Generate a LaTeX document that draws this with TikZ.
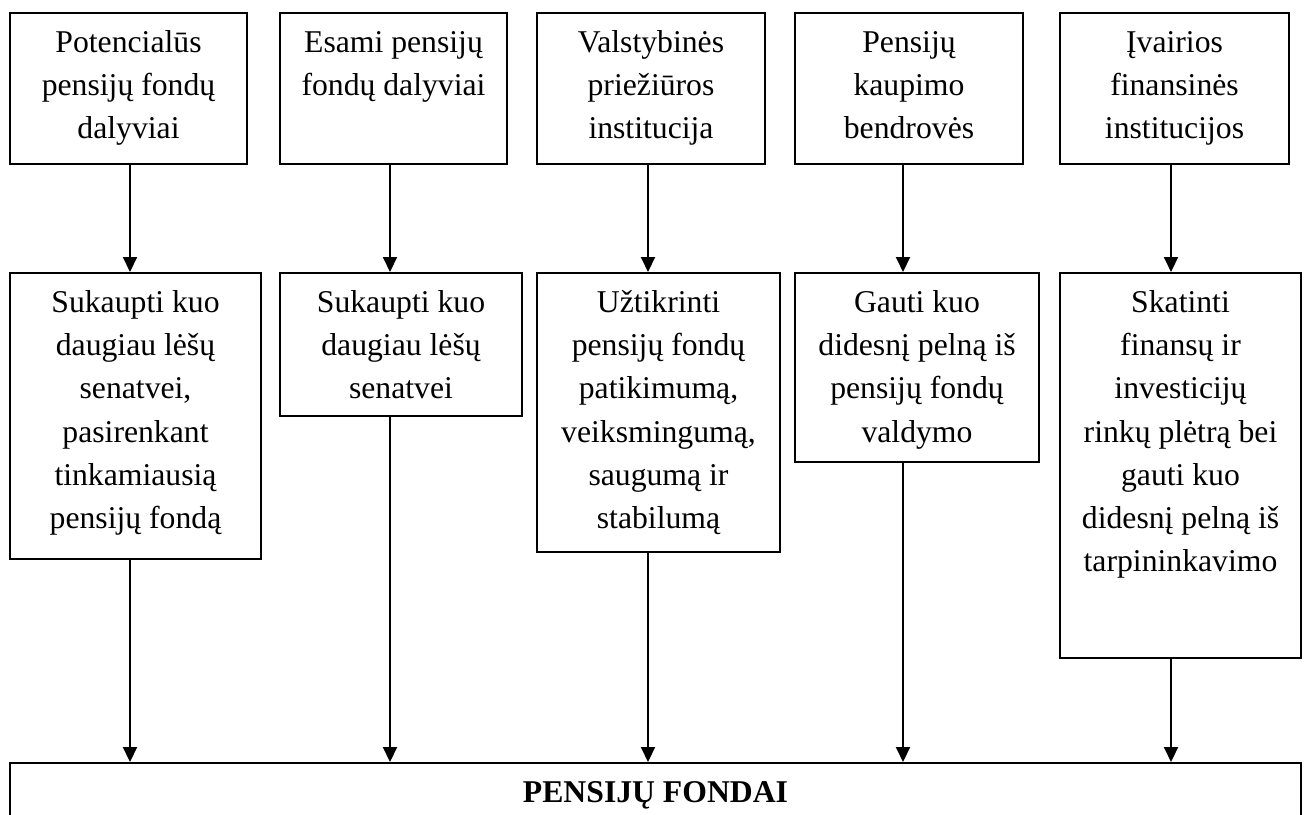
\documentclass[tikz,border=0pt]{standalone}
\usepackage{fontspec}
\setmainfont{Liberation Serif}
\usetikzlibrary{arrows.meta}

\begin{document}
\begin{tikzpicture}[x=.5pt,y=-.5pt,
    frame/.style={draw,line width=1pt,inner sep=0pt,anchor=north west},
    txt/.style={anchor=north,yshift=-4.88pt,align=center,inner sep=0pt,
      font=\fontsize{15.85}{21.6}\selectfont},
    arr/.style={line width=1pt,-{Triangle[length=7.5pt,width=7pt]}}]
  \clip (0,0) rectangle (1304,814);
  % participants
  \foreach \n/\x/\w/\words in {
      1/9/237/{Potencialūs\\pensijų fondų\\dalyviai},
      2/279/227/{Esami pensijų\\fondų dalyviai},
      3/536/228/{Valstybinės\\priežiūros\\institucija},
      4/794/228/{Pensijų\\kaupimo\\bendrovės},
      5/1059/229/{Įvairios\\finansinės\\institucijos}}{
    \node[frame,minimum width=\w*.5pt,minimum height=75.5pt] (t\n) at (\x,12) {};
    \node[txt] (tl\n) at (t\n.north) {\strut\words};
  }
  % their goals
  \foreach \n/\x/\w/\h/\words in {
      1/9/251/286/{Sukaupti kuo\\daugiau lėšų\\senatvei,\\pasirenkant\\tinkamiausią\\pensijų fondą},
      2/279/242/143/{Sukaupti kuo\\daugiau lėšų\\senatvei},
      3/536/243/279/{Užtikrinti\\pensijų fondų\\patikimumą,\\veiksmingumą,\\saugumą ir\\stabilumą},
      4/794/244/189/{Gauti kuo\\didesnį pelną iš\\pensijų fondų\\valdymo},
      5/1059/241/385/{Skatinti\\finansų ir\\investicijų\\rinkų plėtrą bei\\gauti kuo\\didesnį pelną iš\\tarpininkavimo}}{
    \node[frame,minimum width=\w*.5pt,minimum height=\h*.5pt] (m\n) at (\x,272) {};
    \node[txt] (ml\n) at (m\n.north) {\strut\words};
  }
  \node[frame,minimum width=645.5pt,minimum height=60pt] (base) at (9,762) {};
  \node[txt,font=\fontsize{15.85}{21.6}\selectfont\bfseries] (bl) at (base.north) {\strut PENSIJŲ FONDAI};
  \foreach \n/\ax in {1/130,2/390,3/648,4/903,5/1171}{
    \coordinate (a\n) at (\ax,0);
    \draw[arr] (a\n |- t\n.south) -- (a\n |- m\n.north);
    \draw[arr] (a\n |- m\n.south) -- (a\n |- base.north);
  }
\end{tikzpicture}
\end{document}
